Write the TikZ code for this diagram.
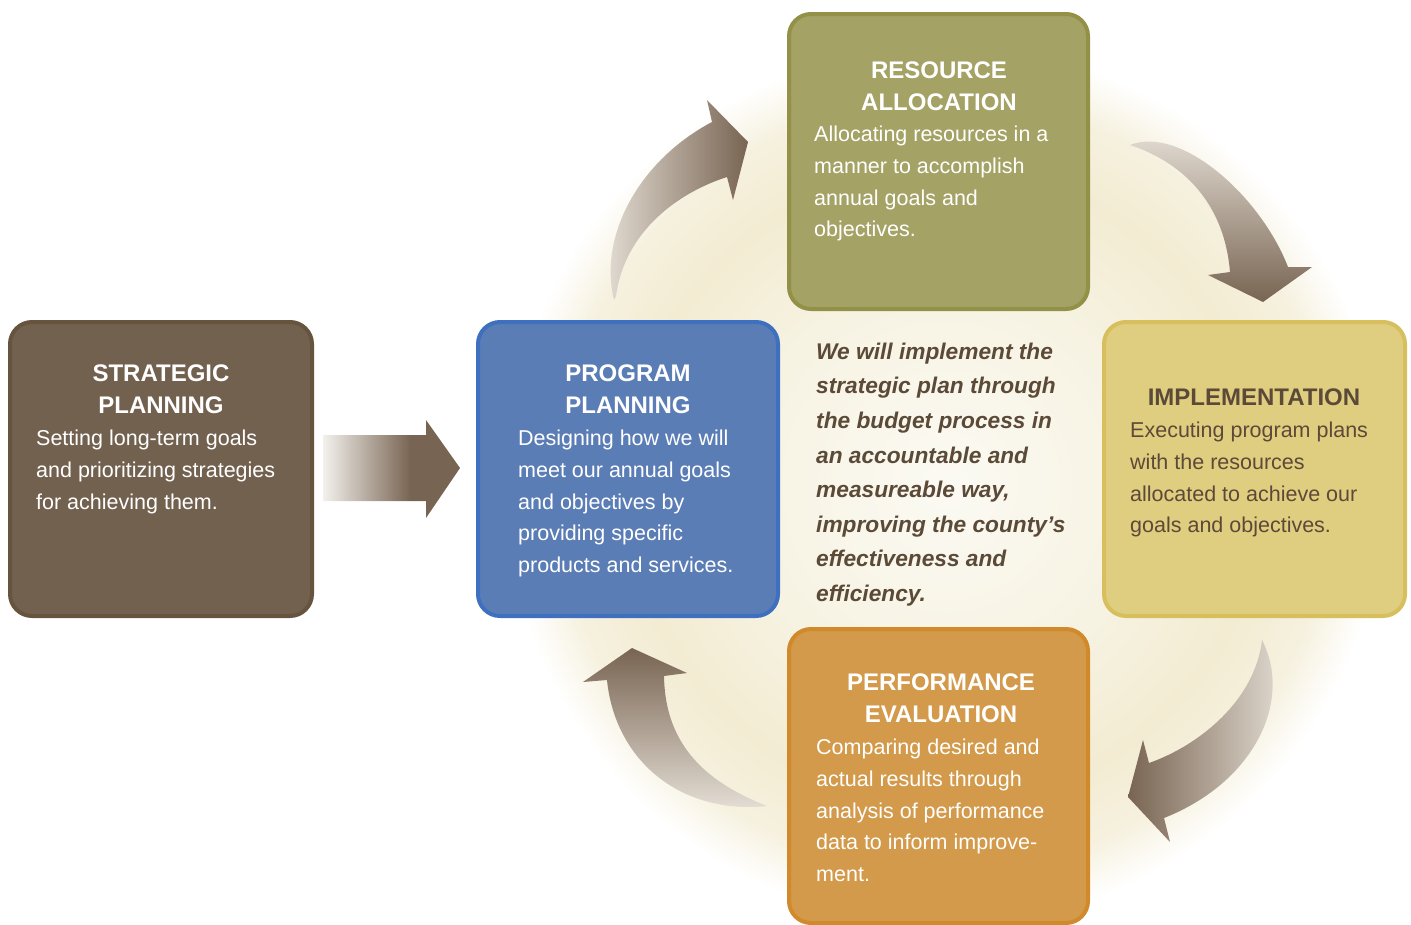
\documentclass[tikz,border=0pt]{standalone}
\usepackage{fontspec}
\setmainfont{Liberation Sans}
\definecolor{spfill}{HTML}{736150}
\definecolor{spdraw}{HTML}{67543F}
\definecolor{ppfill}{HTML}{5B7DB5}
\definecolor{ppdraw}{HTML}{3F70C0}
\definecolor{rafill}{HTML}{A4A264}
\definecolor{radraw}{HTML}{939147}
\definecolor{imfill}{HTML}{DFCD80}
\definecolor{imdraw}{HTML}{D8BF5E}
\definecolor{pefill}{HTML}{D29A4A}
\definecolor{pedraw}{HTML}{D08A2C}
\definecolor{dtext}{HTML}{5C4A38}
\definecolor{arrD}{HTML}{786452}
\definecolor{arrL}{HTML}{E8E2D9}
\definecolor{arrW}{HTML}{F3F1ED}
\definecolor{glowA}{HTML}{FBFAF3}
\definecolor{glowB}{HTML}{F7F3E3}
\definecolor{glowC}{HTML}{F3ECD3}
\definecolor{glowD}{HTML}{F6F1DF}
\pgfdeclareradialshading{glow}{\pgfpoint{0bp}{0bp}}{color(0bp)=(glowA); color(11bp)=(glowB); color(18bp)=(glowC); color(22bp)=(glowD); color(25bp)=(white); color(50bp)=(white)}
\pgfdeclarehorizontalshading{sparr}{100bp}{color(0bp)=(arrW); color(25bp)=(arrW); color(57bp)=(arrD); color(100bp)=(arrD)}
\newcommand{\myhstrut}{\rule{0pt}{19pt}}
\newcommand{\mybstrut}{\rule{0pt}{17pt}}
\tikzset{
  box/.style={rectangle, rounded corners=22pt, line width=4pt, inner sep=0pt},
  hd/.style={font=\fontsize{24}{32}\selectfont\bfseries, align=center, anchor=north, inner sep=0pt},
  bd/.style={font=\fontsize{21.5}{31.7}\selectfont, align=left, anchor=north west, inner sep=0pt},
  ctx/.style={font=\fontsize{22.7}{34.6}\selectfont\bfseries\itshape, align=left, anchor=north west, inner sep=0pt, text=dtext},
}
\begin{document}
\begin{tikzpicture}[x=1pt,y=-1pt]
\useasboundingbox (0,0) rectangle (1411,924);
% glow
\shade[shading=glow] (945,485) circle (440);
% boxes
\node[box, fill=spfill, draw=spdraw, minimum width=302pt, minimum height=294pt] (sp) at (161,469) {};
\node[box, fill=ppfill, draw=ppdraw, minimum width=300pt, minimum height=294pt] (pp) at (628,469) {};
\node[box, fill=rafill, draw=radraw, minimum width=299pt, minimum height=295pt] (ra) at (938.5,161.5) {};
\node[box, fill=imfill, draw=imdraw, minimum width=301pt, minimum height=294pt] (im) at (1254.5,469) {};
\node[box, fill=pefill, draw=pedraw, minimum width=299pt, minimum height=294pt] (pe) at (938.5,776) {};
% straight arrow
\shade[shading=sparr] (323,435) -- (426,435) -- (426,420) -- (460,468) -- (426,518) -- (426,501) -- (323,501) -- cycle;
% curved arrows
\shade[left color=arrL, right color=arrD]
  (614,300) .. controls (598,235) and (640,160) .. (712,122) -- (707,100) -- (748,142) -- (733,200) -- (727,177)
  .. controls (680,192) and (625,230) .. (616,296) -- cycle;
\shade[top color=arrL, bottom color=arrD]
  (1130,145) .. controls (1180,125) and (1260,195) .. (1288,267) -- (1312,267) -- (1263,302) -- (1208,275) -- (1230,272)
  .. controls (1225,210) and (1190,165) .. (1130,145) -- cycle;
\shade[left color=arrD, right color=arrL]
  (1262,640) .. controls (1293,700) and (1255,782) .. (1164,818) -- (1170,842) -- (1128,797) -- (1143,740) -- (1149,763)
  .. controls (1200,745) and (1255,700) .. (1262,640) -- cycle;
\shade[top color=arrD, bottom color=arrL]
  (607,680) -- (583,682) -- (632,648) -- (687,673) -- (664,676)
  .. controls (665,740) and (700,780) .. (767,806)
  .. controls (680,815) and (615,760) .. (607,680) -- cycle;
% texts
\node[hd, text=white] (sph) at (161,362.5) {\myhstrut STRATEGIC\\PLANNING};
\node[bd, text=white] (spb) at (36,428.5) {\mybstrut Setting long-term goals\\and prioritizing strategies\\for achieving them.};
\node[hd, text=white] (pph) at (628,362.5) {\myhstrut PROGRAM\\PLANNING};
\node[bd, text=white] (ppb) at (518,428.5) {\mybstrut Designing how we will\\meet our annual goals\\and objectives by\\providing specific\\products and services.};
\node[hd, text=white] (rah) at (939,59.5) {\myhstrut RESOURCE\\ALLOCATION};
\node[bd, text=white] (rab) at (814,124.5) {\mybstrut Allocating resources in a\\manner to accomplish\\annual goals and\\objectives.};
\node[hd, text=dtext] (imh) at (1254,386.5) {\myhstrut IMPLEMENTATION};
\node[bd, text=dtext] (imb) at (1130,420.5) {\mybstrut Executing program plans\\with the resources\\allocated to achieve our\\goals and objectives.};
\node[hd, text=white] (peh) at (941,671.5) {\myhstrut PERFORMANCE\\EVALUATION};
\node[bd, text=white] (peb) at (816,737.5) {\mybstrut Comparing desired and\\actual results through\\analysis of performance\\data to inform improve-\\ment.};
\node[ctx] (ct) at (816,340) {\myhstrut We will implement the\\strategic plan through\\the budget process in\\an accountable and\\measureable way,\\improving the county's\\effectiveness and\\efficiency.};
\end{tikzpicture}
\end{document}
